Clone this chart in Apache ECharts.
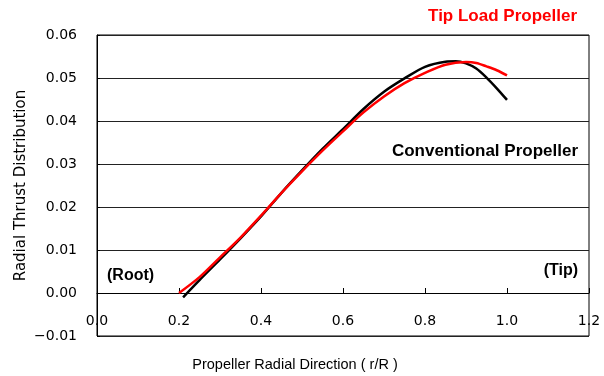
<!DOCTYPE html>
<html>
<head>
<meta charset="utf-8">
<script src="https://cdn.jsdelivr.net/npm/echarts@6/dist/echarts.min.js"></script>
<style>
  html, body { margin: 0; padding: 0; background: #fff; }
  #chart { width: 604px; height: 376px; }
</style>
</head>
<body>
<div id="chart"></div>
<script>
// r/R positions and radial thrust
const convR = [0.21, 0.25, 0.3, 0.35, 0.4, 0.45, 0.5, 0.55, 0.6, 0.65, 0.7, 0.75, 0.8, 0.85, 0.875, 0.9, 0.925, 0.95, 0.975, 1.0]
const convThrust = [-0.001, 0.003, 0.0078, 0.0127, 0.0178, 0.0233, 0.0285, 0.0335, 0.0381, 0.0428, 0.0468, 0.0499, 0.0526, 0.0538, 0.0539, 0.0534, 0.0522, 0.0501, 0.0476, 0.0449]

const tipR = [0.2, 0.25, 0.3, 0.35, 0.4, 0.45, 0.5, 0.55, 0.6, 0.65, 0.7, 0.75, 0.8, 0.85, 0.9, 0.925, 0.95, 0.975, 1.0]
const tipThrust = [0.0, 0.0037, 0.0083, 0.0129, 0.018, 0.0233, 0.0283, 0.0331, 0.0376, 0.042, 0.0457, 0.0488, 0.0512, 0.0531, 0.0537, 0.0535, 0.0527, 0.0518, 0.0506]

const xTicks = [0, 0.2, 0.4, 0.6, 0.8, 1.0, 1.2]

const font = "'DejaVu Sans', sans-serif"
const boldFont = "'Liberation Sans', Arial, sans-serif"

const chart = echarts.init(document.getElementById("chart"))

const pairs = (xs, ys) => xs.map((x, i) => [x, ys[i]])

chart.setOption({
  animation: false,
  grid: {
    left: 97, right: 15, top: 35, bottom: 40,
    outerBoundsMode: "none",
    containLabel: false,
    show: true, borderColor: "#000", borderWidth: 1
  },
  xAxis: {
    type: "value",
    min: 0, max: 1.2, interval: 0.2,
    name: "Propeller Radial Direction ( r/R )",
    nameLocation: "middle",
    nameGap: 21,
    nameMoveOverlap: false,
    nameTextStyle: { fontFamily: boldFont, fontSize: 14.5, color: "#000", padding: [0, 96, 0, 0] },
    axisLine: { onZero: true, lineStyle: { color: "#000", width: 1 } },
    axisTick: { inside: true, length: 5, lineStyle: { color: "#000" } },
    axisLabel: {
      margin: -22, fontFamily: font, fontSize: 14, color: "#000",
      formatter: v => xTicks.includes(+v.toFixed(1)) ? v.toFixed(1) : ""
    },
    splitLine: { show: false }
  },
  yAxis: {
    type: "value",
    min: -0.01, max: 0.06, interval: 0.01,
    name: "Radial Thrust Distribution",
    nameLocation: "middle",
    nameGap: 68,
    nameMoveOverlap: false,
    nameTextStyle: { fontFamily: font, fontSize: 15, color: "#000" },
    axisLine: { show: true, lineStyle: { color: "#000" } },
    axisTick: { show: true, inside: true, length: 3, lineStyle: { color: "#000" } },
    axisLabel: {
      margin: 20, fontFamily: font, fontSize: 14, color: "#000",
      formatter: v => v < 0 ? "\u2212" + Math.abs(v).toFixed(2) : v.toFixed(2)
    },
    splitLine: { show: true, lineStyle: { color: "#222", width: 1 } }
  },
  series: [
    {
      name: "Conventional Propeller",
      type: "line",
      smooth: 0.3,
      symbol: "none",
      data: pairs(convR, convThrust),
      lineStyle: { color: "#000", width: 2.5 }
    },
    {
      name: "Tip Load Propeller",
      type: "line",
      smooth: 0.3,
      symbol: "none",
      data: pairs(tipR, tipThrust),
      lineStyle: { color: "#ff0000", width: 2.5 }
    }
  ],
  graphic: [
    { type: "text", right: 27, top: 8, style: { text: "Tip Load Propeller", fill: "#ff0000", font: "bold 17px " + boldFont } },
    { type: "text", right: 26, top: 143, style: { text: "Conventional Propeller", fill: "#000", font: "bold 17px " + boldFont } },
    { type: "text", left: 107, top: 268, style: { text: "(Root)", fill: "#000", font: "bold 16px " + boldFont } },
    { type: "text", right: 26, top: 263, style: { text: "(Tip)", fill: "#000", font: "bold 16px " + boldFont } }
  ]
})
</script>
</body>
</html>
